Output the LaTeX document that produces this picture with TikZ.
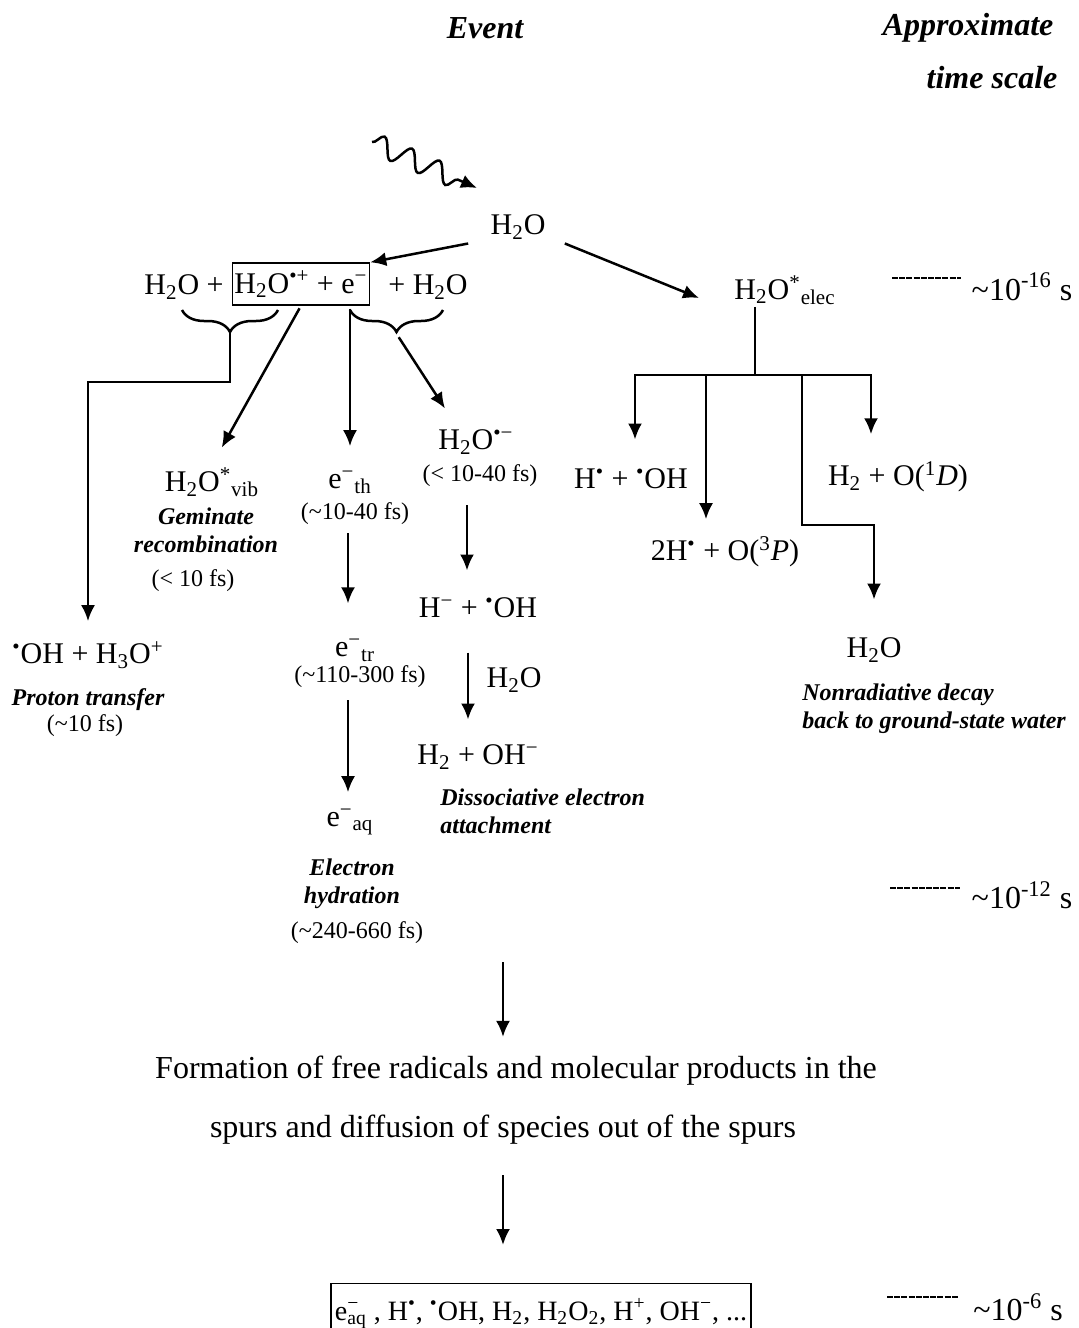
\documentclass[tikz,border=0pt]{standalone}
\usepackage{fontspec}
\setmainfont{Liberation Serif}
\usetikzlibrary{arrows.meta,calc,decorations.pathmorphing,decorations.pathreplacing}
\newcommand{\sbs}[1]{\textsubscript{#1}}
\newcommand{\sps}[1]{\textsuperscript{#1}}
\tikzset{
  spec/.style={font=\fontsize{15}{18}\selectfont, inner sep=1pt},
  big/.style={font=\fontsize{16}{19}\selectfont, inner sep=1pt},
  head/.style={font=\fontsize{16}{19}\selectfont\bfseries\itshape, inner sep=1pt},
  note/.style={font=\fontsize{12}{14}\selectfont\bfseries\itshape, inner sep=1pt},
  tim/.style={font=\fontsize{12}{14}\selectfont, inner sep=1pt},
  arr/.style={-{Latex[length=8pt,width=7pt]}, line width=1.25pt},
  lin/.style={line width=1.25pt},
  brc/.style={line width=1.25pt, decorate, decoration={brace, amplitude=11pt}},
  tsdash/.style={line width=0.9pt, dash pattern=on 3pt off 0.6pt},
  boxed/.style={draw, line width=0.7pt}
}
\begin{document}
\begin{tikzpicture}[x=0.5pt, y=-0.5pt]
    \useasboundingbox (0,0) rectangle (1079,1328);

    % headings
    \node[head] (ev) at (485,28) {Event};
    \node[head] (appr) at (968,28) {Approximate};
    \node[head] (tsc) at (992,78) {time scale};

    % ionization
    \coordinate (ph) at (372,142);
    \coordinate (phtip) at (477,188);
    \node[spec] (h2o) at (518,227) {H\sbs{2}O};
    \node[spec] (lw) at (184,287) {H\sbs{2}O +};
    \node[spec, boxed, minimum width=68.5pt, minimum height=21pt] (ion) at (301,284) {H\sbs{2}O\sps{•+} + e\sps{−}};
    \node[spec] (rw) at (428,287) {+ H\sbs{2}O};
    \node[spec] (elec) at (785,290) {H\sbs{2}O\sps{*}\sbs{elec}};

    \draw[arr, decorate, decoration={snake, amplitude=5pt, segment length=15pt, post length=10pt}] (ph) -- (phtip);
    \draw[arr] ($(h2o.south west)+(-20,2)$) -- (ion.north east);
    \draw[arr] ($(h2o.south east)+(17,2)$) -- ($(elec.west)+(-33,8)$);

    % braces
    \draw[brc] (278,310) -- (182,310);
    \draw[brc] (443,310) -- (350,310);
    \coordinate (lbt) at (230,333);
    \coordinate (lbk) at (230,382);
    \coordinate (rbt) at (396,333);

    % left branches
    \node[spec] (oh) at (88,655) {\sps{•}OH + H\sbs{3}O\sps{+}};
    \node[note] (pt) at (88,700) {Proton transfer};
    \node[tim] (t0) at (85,726) {(\textasciitilde10 fs)};
    \draw[arr, shorten >=9pt] (lbt) -- (lbk) -| (oh.north);

    \node[spec] (vib) at (212,482) {H\sbs{2}O\sps{*}\sbs{vib}};
    \node[note, align=center] (gem) at (206,530) {Geminate\\recombination};
    \node[tim] (tv) at (193,581) {(< 10 fs)};
    \draw[arr, shorten <=1.5pt, shorten >=10pt] (ion.south) -- (vib.north);

    % electron column
    \node[spec] (eth) at (350,482) {e\sps{−}\sbs{th}};
    \node[tim] (t1) at (355,514) {(\textasciitilde10-40 fs)};
    \node[spec] (etr) at (355,650) {e\sps{−}\sbs{tr}};
    \node[tim] (t2) at (360,677) {(\textasciitilde110-300 fs)};
    \node[spec] (eaq) at (350,822) {e\sps{−}\sbs{aq}};
    \node[note, align=center] (hyd) at (352,884) {Electron\\hydration};
    \node[tim] (t4) at (357,933) {(\textasciitilde240-660 fs)};
    \draw[arr, shorten <=1.5pt, shorten >=11pt] (eth |- ion.south) -- (eth.north);
    \draw[arr, shorten <=3pt, shorten >=16.5pt] ([xshift=-3.5pt]t1.south) -- ([xshift=-3.5pt]etr.north);
    \draw[arr, shorten <=5pt, shorten >=7pt] ([xshift=-6pt]t2.south) -- ([xshift=-1pt]eaq.north);

    % electron attachment column
    \node[spec] (anion) at (476,442) {H\sbs{2}O\sps{•−}};
    \node[tim] (t3) at (480,476) {(< 10-40 fs)};
    \node[spec] (hoh) at (478,608) {H\sps{−} + \sps{•}OH};
    \node[spec] (h2oh) at (478,757) {H\sbs{2} + OH\sps{−}};
    \node[spec] (wat) at (514,680) {H\sbs{2}O};
    \node[note, align=left, anchor=west] (dea) at (438,811) {Dissociative electron\\attachment};
    \draw[arr, shorten <=2.5pt] (rbt) -- ($(anion.north)+(-31,-19)$);
    \draw[arr, shorten <=8pt, shorten >=12.5pt] ([xshift=-6.5pt]t3.south) -- ([xshift=-5.5pt]hoh.north);
    \draw[arr, shorten <=16pt, shorten >=11.5pt] ([xshift=-5pt]hoh.south) -- ([xshift=-5pt]h2oh.north);

    % excited state branches
    \coordinate (fork) at (755,375);
    \coordinate (kink) at (802,525);
    \node[spec] (p1) at (631,479) {H\sps{•} + \sps{•}OH};
    \node[spec] (p2) at (725,552) {2H\sps{•} + O(\sps{3}\textit{P})};
    \node[spec] (p4) at (898,477) {H\sbs{2} + O(\sps{1}\textit{D})};
    \node[spec] (p3) at (874,650) {H\sbs{2}O};
    \node[note, align=left, anchor=west] (nrd) at (800,709) {Nonradiative decay\\back to ground-state water};
    \draw[lin] (elec.south -| fork) -- (fork);
    \draw[arr, shorten >=13.5pt] (fork) -| ($(p1.north)+(4,0)$);
    \draw[arr, shorten >=7.5pt] (fork) -| ($(p2.north)+(-19,0)$);
    \draw[arr, shorten >=12.5pt] (fork) -| ($(p4.north)+(-27,0)$);
    \draw[arr, shorten >=18pt] (fork) -| (kink) -| (p3.north);

    % time scale
    \node[big] (ts16) at (1022,287) {\textasciitilde10\sps{-16} s};
    \node[big] (ts12) at (1022,895) {\textasciitilde10\sps{-12} s};
    \node[big] (ts6) at (1018,1307) {\textasciitilde10\sps{-6} s};
    \draw[tsdash] (892,278) -- (961,278);
    \draw[tsdash] (890,888) -- (960,888);
    \draw[tsdash] (887,1297) -- (958,1297);

    % spurs
    \coordinate (gen) at (503,962);
    \node[big] (form1) at (516,1071) {Formation of free radicals and molecular products in the};
    \node[big] (form2) at (503,1130) {spurs and diffusion of species out of the spurs};
    \node[spec, boxed, font=\fontsize{14}{17}\selectfont, anchor=base, inner xsep=2pt, inner ysep=7.5pt] (prod) at (541,1320) {e\rlap{\sps{−}}\sbs{aq} , H\sps{•}, \sps{•}OH, H\sbs{2}, H\sbs{2}O\sbs{2}, H\sps{+}, OH\sps{−}, ...};
    \draw[arr, shorten >=8.5pt] (gen) -- (gen |- form1.north);
    \draw[arr, shorten <=14pt] (form2.south) -- (form2.south |- 0,1245);

\end{tikzpicture}
\end{document}
